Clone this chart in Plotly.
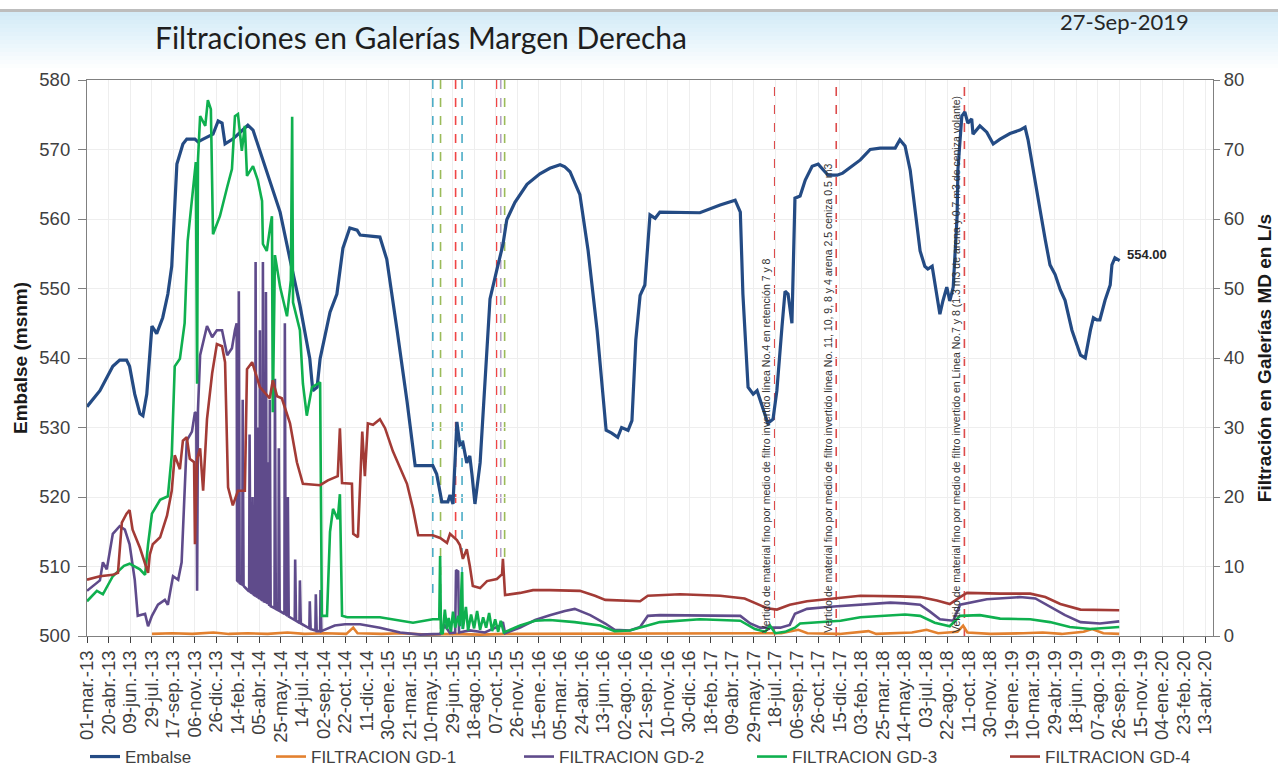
import plotly.graph_objects as go

# ---------------- Datos ----------------
# Nivel del embalse (msnm)
embalse_fechas = [
    "2013-03-01", "2013-03-31", "2013-04-30", "2013-05-16", "2013-06-01", "2013-06-08", "2013-06-20", "2013-07-02", "2013-07-09", "2013-07-18",
    "2013-07-30", "2013-08-10", "2013-08-24", "2013-09-05", "2013-09-14", "2013-09-21", "2013-09-26", "2013-10-10", "2013-10-19", "2013-11-07",
    "2013-11-14", "2013-11-26", "2013-12-19", "2013-12-31", "2014-01-09", "2014-01-16", "2014-02-03", "2014-02-26", "2014-03-10", "2014-03-22",
    "2014-04-02", "2014-04-30", "2014-05-24", "2014-06-16", "2014-07-09", "2014-08-01", "2014-08-08", "2014-08-18", "2014-08-25", "2014-09-17",
    "2014-10-03", "2014-10-17", "2014-11-02", "2014-11-19", "2014-11-26", "2015-01-11", "2015-01-27", "2015-02-20", "2015-03-15", "2015-04-03",
    "2015-05-14", "2015-05-23", "2015-06-04", "2015-06-18", "2015-06-23", "2015-06-30", "2015-07-09", "2015-07-16", "2015-07-23", "2015-08-01",
    "2015-08-08", "2015-08-13", "2015-08-20", "2015-09-01", "2015-09-12", "2015-09-24", "2015-10-10", "2015-10-24", "2015-11-02", "2015-11-21",
    "2015-12-19", "2016-01-18", "2016-02-10", "2016-03-05", "2016-03-16", "2016-03-28", "2016-04-20", "2016-05-09", "2016-05-30", "2016-06-13",
    "2016-06-20", "2016-07-03", "2016-07-17", "2016-07-26", "2016-08-10", "2016-08-19", "2016-08-28", "2016-09-07", "2016-09-18", "2016-09-30",
    "2016-10-12", "2016-10-23", "2016-12-09", "2017-01-24", "2017-03-12", "2017-04-16", "2017-04-28", "2017-05-04", "2017-05-16", "2017-05-28",
    "2017-06-06", "2017-06-20", "2017-07-01", "2017-07-13", "2017-07-22", "2017-08-03", "2017-08-10", "2017-08-17", "2017-08-26", "2017-09-02",
    "2017-09-14", "2017-09-26", "2017-10-12", "2017-10-26", "2017-11-06", "2017-11-18", "2017-12-09", "2017-12-22", "2018-02-01", "2018-02-24",
    "2018-03-19", "2018-04-23", "2018-05-04", "2018-05-16", "2018-05-28", "2018-06-08", "2018-06-20", "2018-07-01", "2018-07-08", "2018-07-18",
    "2018-07-29", "2018-08-05", "2018-08-12", "2018-08-21", "2018-08-28", "2018-09-05", "2018-09-14", "2018-09-16", "2018-09-25", "2018-10-02",
    "2018-10-09", "2018-10-18", "2018-10-21", "2018-11-06", "2018-11-22", "2018-12-07", "2018-12-23", "2019-01-15", "2019-02-07", "2019-02-19",
    "2019-02-26", "2019-03-15", "2019-03-26", "2019-04-07", "2019-04-18", "2019-04-30", "2019-05-12", "2019-05-23", "2019-06-08", "2019-06-28",
    "2019-07-09", "2019-07-21", "2019-07-28", "2019-08-05", "2019-08-12", "2019-08-24", "2019-09-05", "2019-09-09", "2019-09-16", "2019-09-27",
]
embalse_nivel = [
    533.0, 535.3, 538.8, 539.7, 539.7, 538.8, 534.8, 532.0, 531.7, 534.8,
    544.6, 543.5, 545.8, 549.2, 553.2, 563.0, 567.9, 570.8, 571.5, 571.5,
    571.1, 571.5, 572.2, 574.1, 573.8, 570.8, 571.5, 572.8, 573.5, 572.8,
    570.8, 565.6, 561.0, 554.2, 547.6, 539.9, 535.3, 535.8, 539.9, 546.6,
    549.2, 555.8, 558.7, 558.4, 557.7, 557.4, 554.2, 544.0, 533.8, 524.5,
    524.5, 523.3, 519.3, 519.3, 520.3, 519.0, 530.8, 527.5, 527.8, 524.9,
    525.9, 523.3, 519.0, 524.9, 536.3, 548.5, 552.7, 556.3, 559.9, 562.4,
    565.0, 566.5, 567.3, 567.8, 567.5, 566.8, 563.5, 555.5, 544.0, 534.0,
    529.6, 529.2, 528.6, 530.0, 529.6, 531.0, 542.6, 549.0, 550.5, 560.6,
    560.1, 561.0, 560.9, 560.9, 562.0, 562.7, 561.0, 549.2, 535.8, 534.8,
    535.3, 532.7, 530.6, 531.2, 535.3, 544.6, 549.6, 549.2, 545.0, 563.0,
    563.3, 565.6, 567.6, 567.9, 567.2, 566.3, 566.3, 566.6, 568.5, 570.0,
    570.2, 570.2, 571.4, 570.5, 567.0, 561.3, 555.4, 553.2, 552.8, 553.2,
    549.2, 546.3, 548.2, 550.2, 548.2, 550.2, 560.4, 567.2, 574.8, 575.4,
    573.8, 574.4, 572.2, 573.4, 572.5, 570.8, 571.5, 572.3, 572.8, 573.2,
    571.4, 565.6, 561.3, 557.0, 553.4, 552.0, 549.8, 548.3, 544.0, 540.4,
    540.0, 544.0, 545.8, 545.5, 545.5, 548.3, 550.5, 553.4, 554.4, 554.0,
]

# Filtración GD-1 (L/s)
gd1_fechas = [
    "2013-07-30", "2013-09-15", "2013-11-01", "2013-12-20", "2014-01-25", "2014-03-10", "2014-04-25", "2014-06-10", "2014-07-20", "2014-09-05",
    "2014-10-25", "2014-11-10", "2014-11-20", "2015-01-15", "2015-03-01", "2015-05-01", "2015-07-01", "2015-09-01", "2015-11-01", "2016-01-10",
    "2016-04-01", "2016-06-15", "2016-09-01", "2016-11-15", "2017-02-01", "2017-05-01", "2017-08-01", "2017-09-10", "2017-10-01", "2017-12-15",
    "2018-02-20", "2018-03-10", "2018-06-01", "2018-07-05", "2018-08-01", "2018-09-15", "2018-09-28", "2018-10-08", "2018-12-01", "2019-02-15",
    "2019-04-01", "2019-05-15", "2019-07-05", "2019-07-25", "2019-08-20", "2019-09-26",
]
gd1_valores = [
    0.3, 0.4, 0.3, 0.5, 0.3, 0.4, 0.3, 0.5, 0.3, 0.4,
    0.3, 1.2, 0.4, 0.3, 0.4, 0.2, 0.3, 0.2, 0.3, 0.3,
    0.4, 0.3, 0.3, 0.4, 0.3, 0.3, 0.4, 0.9, 0.4, 0.3,
    0.7, 0.3, 0.5, 0.9, 0.4, 0.6, 1.5, 0.5, 0.3, 0.4,
    0.5, 0.3, 0.6, 1.0, 0.4, 0.3,
]

# Filtración GD-2 (L/s)
gd2_fechas = [
    "2013-03-01", "2013-03-31", "2013-04-07", "2013-04-16", "2013-04-30", "2013-05-16", "2013-05-28", "2013-06-08", "2013-06-20", "2013-06-27",
    "2013-07-14", "2013-07-21", "2013-07-30", "2013-08-13", "2013-08-29", "2013-09-05", "2013-09-17", "2013-09-29", "2013-10-07", "2013-10-19",
    "2013-10-31", "2013-11-07", "2013-11-10", "2013-11-12", "2013-11-14", "2013-11-19", "2013-12-05", "2013-12-17", "2013-12-28", "2014-01-09",
    "2014-01-21", "2014-02-01", "2014-02-08", "2014-02-12", "2014-02-13", "2014-02-16", "2014-02-17", "2014-02-19", "2014-02-25", "2014-02-26",
    "2014-02-28", "2014-03-13", "2014-03-14", "2014-03-16", "2014-03-20", "2014-03-21", "2014-03-23", "2014-03-27", "2014-03-28", "2014-03-30",
    "2014-04-01", "2014-04-02", "2014-04-04", "2014-04-06", "2014-04-07", "2014-04-09", "2014-04-13", "2014-04-14", "2014-04-16", "2014-04-20",
    "2014-04-21", "2014-04-23", "2014-04-25", "2014-04-26", "2014-04-28", "2014-04-29", "2014-04-30", "2014-05-02", "2014-05-11", "2014-05-12",
    "2014-05-14", "2014-05-20", "2014-05-21", "2014-05-23", "2014-06-03", "2014-06-04", "2014-06-06", "2014-06-10", "2014-06-11", "2014-06-13",
    "2014-06-27", "2014-06-28", "2014-06-30", "2014-07-08", "2014-07-09", "2014-07-11", "2014-07-31", "2014-08-01", "2014-08-03", "2014-08-14",
    "2014-08-15", "2014-08-17", "2014-08-25", "2014-08-26", "2014-08-28", "2014-09-28", "2014-10-22", "2014-11-26", "2015-01-11", "2015-02-27",
    "2015-04-15", "2015-05-31", "2015-06-11", "2015-06-23", "2015-07-05", "2015-07-07", "2015-07-12", "2015-07-14", "2015-08-08", "2015-09-12",
    "2015-10-17", "2015-10-24", "2015-10-29", "2015-12-03", "2016-01-07", "2016-02-10", "2016-03-16", "2016-04-08", "2016-05-14", "2016-06-18",
    "2016-07-10", "2016-08-14", "2016-09-07", "2016-09-25", "2016-10-23", "2017-01-24", "2017-04-28", "2017-05-21", "2017-06-13", "2017-07-30",
    "2017-08-21", "2017-09-02", "2017-09-30", "2017-11-23", "2018-02-01", "2018-04-12", "2018-05-16", "2018-06-20", "2018-07-13", "2018-08-05",
    "2018-09-05", "2018-09-21", "2018-11-22", "2019-02-07", "2019-03-15", "2019-04-18", "2019-05-23", "2019-06-28", "2019-08-12", "2019-09-26",
]
gd2_valores = [
    6.5, 8.0, 10.6, 9.6, 14.7, 15.8, 15.3, 13.2, 8.1, 2.9,
    3.2, 1.4, 2.9, 4.5, 5.2, 4.5, 8.6, 8.1, 10.6, 28.1,
    29.4, 32.2, 32.0, 6.5, 32.5, 40.4, 44.6, 43.0, 44.0, 44.0,
    40.4, 41.4, 44.0, 45.0, 8.0, 7.8, 49.6, 7.6, 7.4, 34.0,
    7.2, 6.4, 29.0, 6.3, 6.1, 20.0, 6.0, 5.8, 53.8, 5.7,
    5.6, 30.0, 5.5, 5.4, 44.0, 5.3, 5.1, 53.8, 5.0, 4.9,
    49.5, 4.8, 4.7, 25.0, 4.5, 4.4, 34.0, 4.3, 4.0, 37.0,
    3.9, 3.7, 27.0, 3.6, 3.2, 45.0, 3.1, 2.9, 20.0, 2.8,
    2.3, 11.0, 2.2, 1.9, 8.0, 1.8, 1.1, 5.0, 1.0, 0.8,
    6.0, 0.7, 0.7, 6.6, 0.7, 1.5, 1.7, 1.7, 1.2, 0.5,
    0.2, 0.3, 1.5, 0.4, 0.5, 9.5, 9.3, 0.5, 0.8, 0.5,
    1.5, 2.0, 0.4, 1.2, 2.3, 3.0, 3.6, 3.9, 3.0, 1.8,
    0.9, 0.8, 1.3, 2.9, 3.0, 3.0, 2.9, 1.8, 1.2, 1.2,
    1.6, 3.2, 3.9, 4.2, 4.5, 4.8, 4.7, 4.5, 3.5, 2.4,
    2.2, 4.5, 5.3, 5.6, 5.4, 4.2, 3.0, 2.0, 1.8, 2.1,
]

# Filtración GD-3 (L/s)
gd3_fechas = [
    "2013-03-01", "2013-03-24", "2013-04-07", "2013-04-30", "2013-05-26", "2013-06-08", "2013-07-02", "2013-07-14", "2013-07-21", "2013-07-30",
    "2013-08-18", "2013-09-05", "2013-09-14", "2013-09-21", "2013-10-03", "2013-10-14", "2013-10-21", "2013-11-02", "2013-11-09", "2013-11-12",
    "2013-11-14", "2013-11-19", "2013-12-01", "2013-12-07", "2013-12-14", "2013-12-19", "2013-12-28", "2014-01-04", "2014-01-21", "2014-02-01",
    "2014-02-08", "2014-02-15", "2014-02-24", "2014-03-03", "2014-03-08", "2014-03-22", "2014-04-02", "2014-04-12", "2014-04-14", "2014-04-23",
    "2014-04-30", "2014-05-05", "2014-05-07", "2014-05-12", "2014-05-24", "2014-06-09", "2014-06-18", "2014-06-21", "2014-06-23", "2014-07-09",
    "2014-07-16", "2014-07-25", "2014-08-06", "2014-08-25", "2014-08-29", "2014-09-10", "2014-09-17", "2014-09-24", "2014-10-05", "2014-10-10",
    "2014-10-15", "2014-10-27", "2015-01-11", "2015-02-27", "2015-03-29", "2015-05-14", "2015-05-29", "2015-05-31", "2015-06-02", "2015-06-06",
    "2015-06-11", "2015-06-16", "2015-06-20", "2015-06-25", "2015-06-30", "2015-07-05", "2015-07-12", "2015-07-16", "2015-07-21", "2015-07-23",
    "2015-07-30", "2015-08-04", "2015-08-11", "2015-08-18", "2015-08-25", "2015-09-01", "2015-09-08", "2015-09-15", "2015-09-22", "2015-09-29",
    "2015-10-06", "2015-10-13", "2015-10-19", "2015-10-26", "2015-11-09", "2015-12-03", "2016-01-07", "2016-02-10", "2016-04-08", "2016-06-06",
    "2016-07-10", "2016-08-14", "2016-09-18", "2016-10-23", "2017-01-24", "2017-04-28", "2017-06-01", "2017-06-25", "2017-07-06", "2017-07-18",
    "2017-08-10", "2017-09-02", "2017-09-14", "2017-12-17", "2018-02-01", "2018-04-12", "2018-05-16", "2018-06-20", "2018-07-24", "2018-08-28",
    "2018-09-21", "2018-11-06", "2018-12-23", "2019-03-03", "2019-04-18", "2019-06-03", "2019-07-21", "2019-09-26",
]
gd3_valores = [
    5.0, 6.5, 6.0, 8.6, 10.1, 10.4, 9.6, 8.8, 13.2, 17.6,
    19.6, 20.1, 26.0, 38.8, 39.9, 45.0, 56.8, 64.6, 68.2, 36.3,
    68.5, 74.8, 73.4, 77.1, 75.8, 57.8, 59.4, 60.4, 64.6, 67.2,
    74.8, 75.1, 69.8, 73.4, 66.2, 67.6, 65.6, 62.6, 56.4, 55.4,
    58.5, 60.4, 32.2, 54.8, 50.2, 46.0, 51.2, 74.7, 48.0, 44.0,
    36.3, 31.7, 35.8, 36.5, 2.9, 2.9, 15.0, 18.3, 16.8, 20.4,
    2.9, 2.7, 2.7, 2.2, 1.9, 2.4, 2.4, 11.5, 0.5, 0.3,
    3.8, 1.0, 2.6, 0.6, 3.5, 1.2, 2.9, 1.4, 9.2, 1.0,
    4.2, 0.8, 3.1, 1.1, 3.6, 0.9, 2.7, 1.2, 3.3, 0.7,
    2.4, 0.6, 2.2, 0.5, 0.9, 1.5, 2.2, 2.3, 2.0, 1.5,
    0.7, 0.8, 1.4, 2.0, 2.4, 2.2, 1.0, 0.6, 1.5, 0.4,
    0.6, 1.2, 1.8, 2.2, 2.7, 2.9, 3.1, 2.9, 1.9, 1.4,
    2.9, 3.0, 2.5, 2.4, 2.0, 1.3, 1.0, 1.3,
]

# Filtración GD-4 (L/s)
gd4_fechas = [
    "2013-03-01", "2013-03-31", "2013-04-30", "2013-05-12", "2013-05-21", "2013-06-01", "2013-06-08", "2013-06-15", "2013-07-02", "2013-07-14",
    "2013-07-21", "2013-07-25", "2013-08-01", "2013-08-18", "2013-09-03", "2013-09-14", "2013-09-21", "2013-10-03", "2013-10-10", "2013-10-19",
    "2013-10-26", "2013-11-05", "2013-11-07", "2013-11-12", "2013-11-19", "2013-11-26", "2013-12-05", "2013-12-17", "2013-12-28", "2014-01-09",
    "2014-01-16", "2014-01-23", "2014-02-03", "2014-02-15", "2014-03-03", "2014-03-08", "2014-03-20", "2014-04-07", "2014-04-30", "2014-05-07",
    "2014-05-17", "2014-05-28", "2014-06-16", "2014-07-02", "2014-07-16", "2014-08-25", "2014-09-12", "2014-10-05", "2014-10-10", "2014-10-15",
    "2014-11-07", "2014-11-10", "2014-11-21", "2014-12-01", "2014-12-07", "2014-12-14", "2014-12-26", "2015-01-11", "2015-01-23", "2015-02-10",
    "2015-03-15", "2015-03-29", "2015-04-10", "2015-05-14", "2015-05-31", "2015-06-16", "2015-06-23", "2015-07-09", "2015-07-16", "2015-07-23",
    "2015-08-01", "2015-08-08", "2015-08-15", "2015-09-01", "2015-09-17", "2015-10-10", "2015-10-22", "2015-10-24", "2015-10-29", "2015-12-03",
    "2016-01-02", "2016-02-10", "2016-04-20", "2016-05-25", "2016-06-18", "2016-09-07", "2016-09-25", "2016-12-09", "2017-03-12", "2017-05-08",
    "2017-06-29", "2017-07-22", "2017-08-21", "2017-09-30", "2017-12-17", "2018-02-01", "2018-05-04", "2018-06-20", "2018-07-29", "2018-08-28",
    "2018-09-21", "2018-10-07", "2018-12-23", "2019-03-03", "2019-04-07", "2019-05-12", "2019-06-28", "2019-09-26",
]
gd4_valores = [
    8.1, 8.6, 8.8, 9.1, 16.3, 17.6, 18.1, 15.3, 12.7, 10.6,
    9.1, 11.7, 13.2, 14.2, 17.3, 20.9, 26.0, 24.0, 28.1, 28.6,
    25.5, 25.0, 13.2, 25.5, 27.0, 20.9, 31.2, 37.8, 42.0, 41.7,
    39.4, 21.4, 18.8, 20.9, 20.9, 38.4, 39.4, 35.8, 34.2, 36.8,
    34.5, 34.2, 30.6, 25.0, 21.9, 21.7, 22.4, 23.0, 29.9, 22.0,
    21.9, 14.7, 14.2, 29.4, 23.0, 30.6, 30.4, 31.2, 29.9, 26.6,
    21.9, 18.3, 14.5, 14.5, 14.1, 13.4, 14.7, 13.8, 13.1, 11.1,
    12.5, 10.1, 7.2, 6.9, 7.9, 8.2, 8.9, 11.1, 5.9, 6.2,
    6.6, 6.6, 6.5, 5.8, 5.2, 5.0, 5.8, 6.0, 5.8, 5.4,
    4.0, 3.8, 4.5, 5.0, 5.5, 5.8, 5.7, 5.6, 5.1, 4.6,
    5.6, 6.2, 6.1, 6.1, 5.6, 4.6, 3.8, 3.7,
]

# Marcas del eje de fechas (cada 50 días)
tick_fechas = [
    "2013-03-01", "2013-04-20", "2013-06-09", "2013-07-29", "2013-09-17", "2013-11-06", "2013-12-26", "2014-02-14", "2014-04-05", "2014-05-25",
    "2014-07-14", "2014-09-02", "2014-10-22", "2014-12-11", "2015-01-30", "2015-03-21", "2015-05-10", "2015-06-29", "2015-08-18", "2015-10-07",
    "2015-11-26", "2016-01-15", "2016-03-05", "2016-04-24", "2016-06-13", "2016-08-02", "2016-09-21", "2016-11-10", "2016-12-30", "2017-02-18",
    "2017-04-09", "2017-05-29", "2017-07-18", "2017-09-06", "2017-10-26", "2017-12-15", "2018-02-03", "2018-03-25", "2018-05-14", "2018-07-03",
    "2018-08-22", "2018-10-11", "2018-11-30", "2019-01-19", "2019-03-10", "2019-04-29", "2019-06-18", "2019-08-07", "2019-09-26", "2019-11-15",
    "2020-01-04", "2020-02-23", "2020-04-13",
]
tick_textos = [
    "01-mar.-13", "20-abr.-13", "09-jun.-13", "29-jul.-13", "17-sep.-13", "06-nov.-13", "26-dic.-13", "14-feb.-14", "05-abr.-14", "25-may.-14",
    "14-jul.-14", "02-sep.-14", "22-oct.-14", "11-dic.-14", "30-ene.-15", "21-mar.-15", "10-may.-15", "29-jun.-15", "18-ago.-15", "07-oct.-15",
    "26-nov.-15", "15-ene.-16", "05-mar.-16", "24-abr.-16", "13-jun.-16", "02-ago.-16", "21-sep.-16", "10-nov.-16", "30-dic.-16", "18-feb.-17",
    "09-abr.-17", "29-may.-17", "18-jul.-17", "06-sep.-17", "26-oct.-17", "15-dic.-17", "03-feb.-18", "25-mar.-18", "14-may.-18", "03-jul.-18",
    "22-ago.-18", "11-oct.-18", "30-nov.-18", "19-ene.-19", "10-mar.-19", "29-abr.-19", "18-jun.-19", "07-ago.-19", "26-sep.-19", "15-nov.-19",
    "04-ene.-20", "23-feb.-20", "13-abr.-20",
]

# Marcas cortas de eventos en 2015 (fecha, cota inferior en msnm, color)
marcas_fechas = ["2015-05-14", "2015-06-01", "2015-07-06", "2015-07-21", "2015-10-09", "2015-10-19", "2015-10-28"]
marcas_hasta = [505.0, 501.0, 514.0, 501.0, 511.0, 511.0, 511.0]
marcas_colores = ["#4bacc6", "#9bbb59", "#f04545", "#4bacc6", "#f04545", "#b3a2c7", "#9bbb59"]

# Eventos de vertido de material fino
eventos_fechas = ["2017-07-17", "2017-12-07", "2018-10-01"]
eventos_textos = [
    "Vertido de material fino por medio de filtro invertido línea No.4 en retención 7 y 8",
    "Vertido de material fino por medio de filtro invertido línea No. 11, 10, 9, 8 y 4 arena 2.5 ceniza 0.5 m3",
    "Vertido de material fino por medio de filtro invertido en Línea No.7 y 8 (1.3 m3 de arena y 0.7 m3 de ceniza volante)",
]

series = [
    ("FILTRACION GD-1", gd1_fechas, gd1_valores, "#e3812f"),
    ("FILTRACION GD-2", gd2_fechas, gd2_valores, "#5f4b8b"),
    ("FILTRACION GD-3", gd3_fechas, gd3_valores, "#0fb04f"),
    ("FILTRACION GD-4", gd4_fechas, gd4_valores, "#a33b36"),
]

assert len(embalse_fechas) == len(embalse_nivel)
for _, f, v, _ in series:
    assert len(f) == len(v)
assert len(tick_fechas) == len(tick_textos)

# ---------------- Geometría del lienzo ----------------
W, H = 1282, 768
L, R, T, B = 87, 69, 80, 132
PW, PH = W - L - R, H - T - B


def px_x(px):
    return (px - L) / PW


def px_y(py):
    return (H - B - py) / PH


FONT = "Liberation Sans, Arial, sans-serif"
AXIS_COLOR = "#808080"
GRID_COLOR = "#eeeeee"

fig = go.Figure()

fig.add_trace(go.Scatter(
    x=embalse_fechas, y=embalse_nivel, name="Embalse", mode="lines",
    line=dict(color="#244b84", width=3.2), legend="legend",
))

legend_ids = ["legend2", "legend3", "legend4", "legend5"]
for (nombre, f, v, color), lg in zip(series, legend_ids):
    fig.add_trace(go.Scatter(
        x=f, y=v, name=nombre, mode="lines", yaxis="y2",
        line=dict(color=color, width=2.6), legend=lg,
    ))

# Líneas verticales de eventos
shapes = []
for fecha, hasta, color in zip(marcas_fechas, marcas_hasta, marcas_colores):
    shapes.append(dict(type="line", xref="x", yref="y", x0=fecha, x1=fecha, y0=580, y1=hasta,
                       line=dict(color=color, width=1.6, dash="dash"), layer="below"))
for fecha in eventos_fechas:
    shapes.append(dict(type="line", xref="x", yref="paper", x0=fecha, x1=fecha, y0=0, y1=1,
                       line=dict(color="#dd4b4b", width=1.6, dash="dash"), layer="below"))

# Banda degradada en la cabecera
shapes.append(dict(type="rect", xref="paper", yref="paper", x0=px_x(0), x1=px_x(1278),
                   y0=px_y(12), y1=px_y(9), line=dict(width=0), fillcolor="#bdbdbd", layer="below"))
n_band = 14
for i in range(n_band):
    y_top = 12 + i * 4
    alpha = 0.85 * (1 - i / n_band)
    shapes.append(dict(type="rect", xref="paper", yref="paper", x0=px_x(0), x1=px_x(1278),
                       y0=px_y(y_top + 4), y1=px_y(y_top), line=dict(width=0),
                       fillcolor=f"rgba(204,232,246,{alpha:.3f})", layer="below"))

annotations = []
for fecha, texto in zip(eventos_fechas, eventos_textos):
    annotations.append(dict(
        x=fecha, xref="x", y=0, yref="paper", text=texto, textangle=-90,
        xanchor="right", yanchor="bottom", xshift=-1, yshift=1, showarrow=False,
        font=dict(family="Liberation Sans Narrow, Arial Narrow, " + FONT, size=10.5, color="#333333"),
    ))

annotations.append(dict(
    x=embalse_fechas[-1], xref="x", y=embalse_nivel[-1], yref="y",
    text=f"<b>{embalse_nivel[-1]:.2f}</b>", xanchor="left", yanchor="middle",
    xshift=5, yshift=6, showarrow=False, font=dict(family=FONT, size=13, color="#262626"),
))
annotations.append(dict(
    x=px_x(1058), xref="paper", y=px_y(22), yref="paper", text="27-Sep-2019",
    xanchor="left", yanchor="middle", showarrow=False,
    font=dict(family="Lato, sans-serif", size=22, color="#262626"),
))

legend_common = dict(orientation="h", xanchor="left", yanchor="middle", y=px_y(757),
                     bgcolor="rgba(0,0,0,0)", font=dict(family=FONT, size=17, color="#404040"),
                     itemwidth=30)
legend_x = {"legend": 85, "legend2": 271, "legend3": 519, "legend4": 752, "legend5": 1005}

fig.update_layout(
    width=W, height=H, autosize=False,
    margin=dict(l=L, r=R, t=T, b=B, autoexpand=False),
    paper_bgcolor="white", plot_bgcolor="white",
    font=dict(family=FONT, color="#404040"),
    title=dict(text="Filtraciones en Galerías Margen Derecha", x=155 / W, xanchor="left",
               y=1 - 38 / H, yanchor="middle", xref="container", yref="container",
               font=dict(family="Lato, sans-serif", size=30, color="#1e1e1e")),
    xaxis=dict(
        type="date", range=["2013-03-01", "2020-05-01"], automargin=False,
        tickmode="array", tickvals=tick_fechas, ticktext=tick_textos, tickangle=-90,
        tickfont=dict(family=FONT, size=18.5, color="#404040"),
        showgrid=True, gridcolor=GRID_COLOR, gridwidth=1,
        showline=True, linecolor=AXIS_COLOR, linewidth=1.2, mirror=True,
        ticks="outside", ticklen=6, tickcolor="#404040", zeroline=False,
    ),
    yaxis=dict(
        range=[500, 580], dtick=10, tick0=500, automargin=False,
        tickfont=dict(family=FONT, size=18.5, color="#404040"), ticklabelstandoff=4,
        title=dict(text="Embalse (msnm)", standoff=6,
                   font=dict(family=FONT, size=19, color="#1a1a1a", weight="bold")),
        showgrid=True, gridcolor=GRID_COLOR, gridwidth=1,
        showline=True, linecolor=AXIS_COLOR, linewidth=1.2,
        ticks="outside", ticklen=8, tickcolor=AXIS_COLOR, zeroline=False,
    ),
    yaxis2=dict(
        range=[0, 80], dtick=10, tick0=0, overlaying="y", side="right", automargin=False,
        tickfont=dict(family=FONT, size=18.5, color="#404040"),
        title=dict(text="Filtración en Galerías MD en L/s", standoff=14,
                   font=dict(family=FONT, size=19, color="#1a1a1a", weight="bold")),
        showgrid=False, showline=True, linecolor=AXIS_COLOR, linewidth=1.2,
        ticks="outside", ticklen=6, tickcolor=AXIS_COLOR, zeroline=False,
    ),
    shapes=shapes,
    annotations=annotations,
    showlegend=True,
)

for lg, xp in legend_x.items():
    fig.update_layout({lg: dict(legend_common, x=px_x(xp))})

fig.write_html("out.html")
